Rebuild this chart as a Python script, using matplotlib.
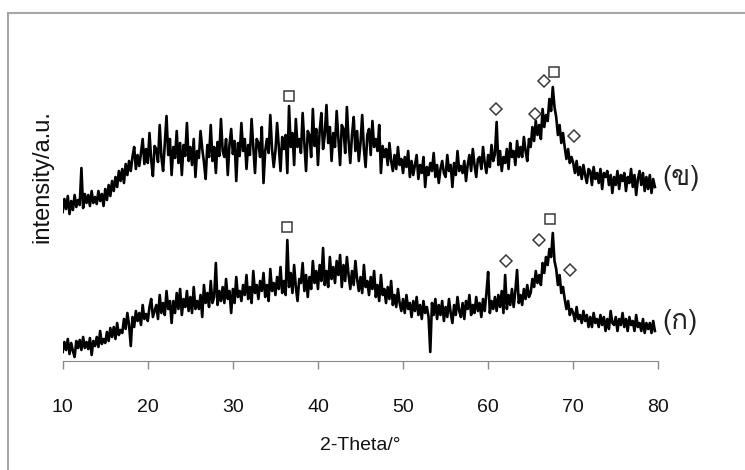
#!/usr/bin/env python3
"""
XRD patterns of two samples, (ก) and (ข), stacked on one 2-Theta axis,
with square / diamond markers over the labelled reflections.
"""

import numpy as np
import matplotlib
matplotlib.use("Agg")
import matplotlib.pyplot as plt
from matplotlib import font_manager, ft2font
from matplotlib.patches import Rectangle

W, H, DPI = 745, 470, 100

# 2-Theta grid, 0.2 deg steps from 10.0 to 79.6 (349 points)
two_theta = np.arange(349) * 0.2 + 10.0

# pattern (ข) - upper trace, intensity in arbitrary units (5 values per degree)
pattern_b = [
    149, 162, 152, 165, 147,  160, 151, 166, 154, 161,  156, 193, 153, 167, 158,
    166, 155, 170, 158, 164,  157, 170, 160, 167, 155,  172, 161, 176, 165, 180,
    170, 184, 174, 190, 180,  192, 178, 197, 186, 200,  190, 204, 214, 192, 206,
    195, 208, 222, 197, 212,  198, 228, 201, 185, 215,  212, 199, 236, 204, 190,
    218, 245, 206, 222, 186,  214, 203, 230, 198, 218,  186, 216, 205, 238, 200,
    214, 196, 222, 184, 210,  203, 230, 212, 199, 182,  216, 204, 236, 200, 214,
    188, 219, 205, 242, 210,  204, 222, 186, 216, 232,  207, 220, 180, 218, 205,
    238, 210, 222, 192, 216,  206, 242, 214, 188, 222,  218, 204, 234, 178, 210,
    222, 208, 246, 212, 194,  210, 238, 214, 190, 224,  212, 226, 188, 255, 214,
    228, 196, 242, 214, 222,  208, 248, 218, 190, 230,  226, 204, 252, 215, 232,
    196, 230, 248, 212, 226,  256, 218, 234, 200, 228,  214, 250, 222, 196, 236,
    232, 208, 254, 220, 198,  226, 244, 210, 230, 200,  218, 246, 212, 194, 226,
    232, 206, 240, 214, 222,  210, 236, 188, 215, 204,  212, 196, 218, 200, 190,
    206, 192, 214, 196, 202,  188, 204, 194, 210, 184,  200, 186, 196, 206, 182,
    196, 188, 204, 174, 194,  186, 198, 190, 208, 184,  196, 178, 192, 200, 188,
    184, 206, 190, 196, 174,  198, 186, 210, 190, 195,  188, 200, 180, 196, 206,
    190, 212, 196, 184, 202,  204, 192, 214, 198, 188,  206, 194, 216, 200, 207,
    239, 196, 210, 190, 204,  198, 212, 192, 218, 204,  210, 196, 220, 204, 214,
    204, 224, 210, 200, 222,  214, 234, 220, 240, 226,  236, 222, 252, 234, 246,
    240, 262, 250, 274, 254,  244, 226, 236, 218, 228,  214, 202, 212, 198, 204,
    198, 188, 200, 186, 194,  182, 196, 186, 178, 192,  190, 176, 194, 182, 188,
    178, 192, 172, 188, 184,  190, 176, 186, 168, 184,  176, 190, 172, 186, 180,
    188, 170, 184, 178, 192,  174, 186, 166, 182, 190,  176, 188, 170, 184, 172,
    186, 168, 182, 174,
]

# pattern (ก) - lower trace
pattern_a = [
    9, 19, 11, 22, 7,  18, 10, 4, 20, 13,  21, 11, 24, 13, 19,
    12, 23, 6, 20, 15,  24, 14, 30, 17, 22,  18, 29, 20, 33, 24,
    34, 22, 38, 26, 31,  28, 42, 32, 48, 36,  15, 44, 34, 50, 40,
    48, 36, 56, 42, 47,  40, 54, 62, 44, 50,  56, 42, 66, 48, 58,
    46, 70, 52, 60, 38,  60, 48, 68, 52, 72,  46, 62, 54, 70, 50,
    64, 48, 74, 52, 60,  52, 66, 44, 76, 58,  68, 54, 80, 58, 64,
    98, 56, 70, 60, 74,  58, 82, 62, 70, 48,  72, 58, 84, 64, 70,
    60, 76, 66, 86, 62,  74, 58, 90, 68, 76,  62, 80, 70, 88, 64,
    76, 60, 92, 70, 78,  66, 84, 72, 94, 68,  80, 66, 121, 74, 88,
    68, 96, 74, 60, 82,  78, 98, 70, 86, 64,  84, 72, 100, 78, 90,
    72, 96, 80, 113, 76,  90, 74, 104, 82, 94,  78, 100, 86, 106, 74,
    96, 80, 104, 86, 72,  90, 76, 100, 82, 70,  84, 68, 96, 74, 80,
    66, 84, 72, 90, 64,  76, 60, 86, 66, 72,  58, 74, 62, 80, 56,
    66, 54, 72, 58, 50,  62, 48, 66, 52, 58,  44, 60, 50, 64, 46,
    56, 42, 60, 48, 54,  44, 9, 58, 46, 62,  42, 56, 46, 60, 40,
    54, 44, 62, 48, 38,  56, 46, 64, 50, 44,  58, 42, 60, 52, 66,
    46, 56, 48, 64, 50,  58, 44, 62, 50, 68,  89, 48, 60, 52, 64,
    50, 66, 54, 70, 48,  86, 52, 66, 56, 72,  54, 70, 91, 58, 66,
    56, 72, 62, 76, 64,  68, 82, 74, 90, 78,  86, 76, 98, 88, 104,
    96, 112, 104, 128, 100,  92, 76, 86, 68, 74,  62, 52, 60, 46, 52,
    48, 40, 54, 42, 46,  38, 50, 40, 46, 34,  44, 34, 48, 38, 42,
    34, 46, 36, 44, 30,  42, 32, 50, 38, 36,  44, 30, 42, 36, 48,
    34, 42, 30, 44, 36,  40, 30, 46, 34, 38,  30, 42, 28, 38, 32,
    38, 28, 40, 30,
]

# reflection markers (2-Theta, height)
square_b_x = [36.56, 67.75]
square_b_y = [265, 289]
diamond_b_x = [60.96, 65.55, 66.61, 70.10]
diamond_b_y = [252, 247, 280, 225]
square_a_x = [36.33, 67.31]
square_a_y = [134, 142]
diamond_a_x = [62.10, 65.98, 69.66]
diamond_a_y = [100, 121, 91]

x_ticks = [10, 20, 30, 40, 50, 60, 70, 80]
trace_labels = ["(ข)", "(ก)"]


def thai_family():
    # any installed face that actually has the Thai glyphs
    for f in font_manager.fontManager.ttflist:
        try:
            if 0x0E02 in ft2font.FT2Font(f.fname).get_charmap():
                return f.name
        except Exception:
            pass
    return "DejaVu Sans"


plt.rcParams["font.family"] = ["Liberation Sans", "DejaVu Sans"]

fig = plt.figure(figsize=(W / DPI, H / DPI), dpi=DPI)
ax = fig.add_axes([62.7 / W, 1 - 361 / H, (658.3 - 62.7) / W, (361 - 20) / H])

ax.plot(two_theta, pattern_b, color="black", lw=1.9)
ax.plot(two_theta, pattern_a, color="black", lw=1.9)

mk = dict(ls="none", mfc="white", mec="#3a3a3a", mew=1.1, clip_on=False)
ax.plot(square_b_x, square_b_y, marker="s", ms=6.5, **mk)
ax.plot(square_a_x, square_a_y, marker="s", ms=6.5, **mk)
ax.plot(diamond_b_x, diamond_b_y, marker="D", ms=6.2, **mk)
ax.plot(diamond_a_x, diamond_a_y, marker="D", ms=6.2, **mk)

ax.set_xlim(10, 80)
ax.set_ylim(0, 341)
ax.set_xticks(x_ticks)
ax.set_yticks([])
for side in ["top", "right", "left"]:
    ax.spines[side].set_visible(False)
ax.spines["bottom"].set_color("#8a8a8a")
ax.tick_params(axis="x", colors="#8a8a8a", length=6, width=1, pad=21,
               labelsize=14, labelcolor="#111111")

fig.text(360 / W, 1 - 445 / H, "2-Theta/°", ha="center", va="center", fontsize=14,
         color="#111111")
fig.text(42 / W, 1 - 177 / H, "intensity/a.u.", ha="center", va="center",
         rotation=90, fontsize=17, color="#111111")

thai = thai_family()
fig.text(662 / W, 1 - 178 / H, trace_labels[0], ha="left", va="center",
         fontsize=20, color="#222222", family=[thai, "DejaVu Sans"])
fig.text(662 / W, 1 - 322 / H, trace_labels[1], ha="left", va="center",
         fontsize=20, color="#222222", family=[thai, "DejaVu Sans"])

# grey frame that runs off the right and bottom edges
fig.patches.append(Rectangle((8 / W, -0.1), 1.2, 1.1 - 13 / H, transform=fig.transFigure,
                             fill=False, edgecolor="#a6a6a6", lw=1.5))

fig.savefig("out.png", dpi=DPI)
plt.close(fig)
